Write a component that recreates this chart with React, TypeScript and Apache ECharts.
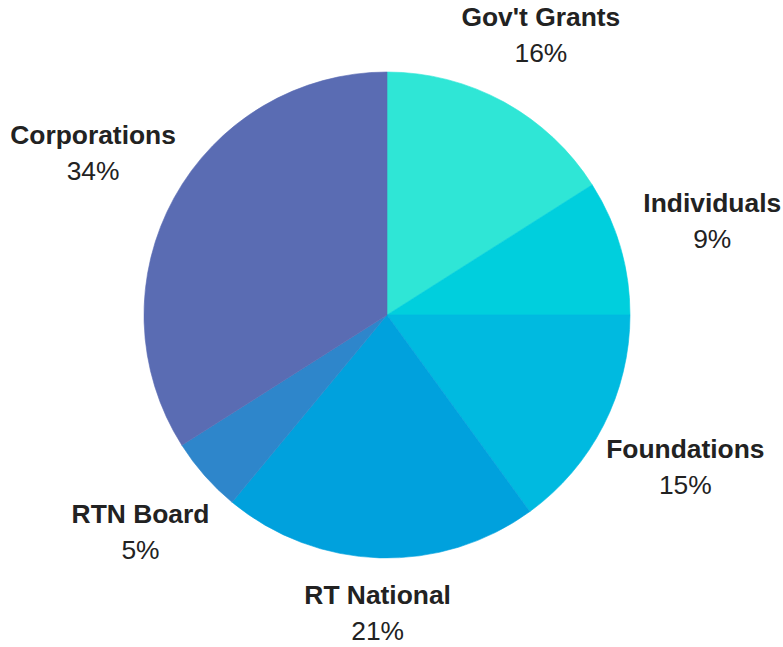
import React, { useEffect, useRef } from "react";
import * as echarts from "echarts";

const categories = ["Gov't Grants", "Individuals", "Foundations", "RT National", "RTN Board", "Corporations"];
const values = [16, 9, 15, 21, 5, 34];
const colors = ["#2FE6D6", "#00CFDD", "#00BAE0", "#00A1DD", "#2E86CB", "#5A6CB3"];

const CENTER: [number, number] = [387, 315];
const RADIUS = 243;
const FONT_SIZE = 26.4;
const LINE_H = 36;
// label centre distance from pie centre along the slice's mid-angle ray
const LABEL_BASE = 298;
const LABEL_SIDE = 42;
const LABEL_TOP = 1.3;

export default function App() {
  const ref = useRef<HTMLDivElement>(null);
  useEffect(() => {
    document.body.style.margin = "0";
    if (!ref.current) return;
    const chart = echarts.init(ref.current, undefined, { renderer: "svg" });
    const total = values.reduce((a, b) => a + b, 0);
    const data = categories.map((name, i) => ({
      name,
      value: values[i],
      itemStyle: { color: colors[i], borderColor: colors[i], borderWidth: 0.6 },
    }));
    const midAngle = (idx: number) => {
      let before = 0;
      for (let i = 0; i < idx; i++) before += values[i];
      return ((before + values[idx] / 2) / total) * Math.PI * 2;
    };
    chart.setOption({
      animation: false,
      backgroundColor: "#ffffff",
      series: [
        {
          type: "pie",
          center: CENTER,
          radius: [0, RADIUS],
          startAngle: 90,
          clockwise: true,
          silent: true,
          data,
          emphasis: { disabled: true },
          labelLine: { show: false },
          label: {
            show: true,
            position: "inside",
            color: "#222222",
            textBorderWidth: 0,
            fontFamily: "Liberation Sans",
            fontSize: FONT_SIZE,
            lineHeight: LINE_H,
            formatter: "{n|{b}}\n{v|{c}%}",
            rich: {
              n: {
                fontFamily: "Liberation Sans",
                fontWeight: "bold",
                fontSize: FONT_SIZE,
                lineHeight: LINE_H,
                color: "#222222",
                textBorderWidth: 0,
                align: "center",
              },
              v: {
                fontFamily: "Liberation Sans",
                fontSize: FONT_SIZE,
                lineHeight: LINE_H,
                color: "#222222",
                textBorderWidth: 0,
                align: "center",
              },
            },
          },
          labelLayout: (params: any) => {
            const a = midAngle(params.dataIndex);
            const ux = Math.sin(a);
            const uy = -Math.cos(a);
            const t = LABEL_BASE + LABEL_SIDE * Math.abs(ux) - LABEL_TOP * uy;
            return {
              x: CENTER[0] + t * ux,
              y: CENTER[1] + t * uy,
              align: "center",
              verticalAlign: "middle",
            };
          },
        },
      ],
    });
    return () => chart.dispose();
  }, []);
  return <div ref={ref} style={{ width: 783, height: 647 }} />;
}
